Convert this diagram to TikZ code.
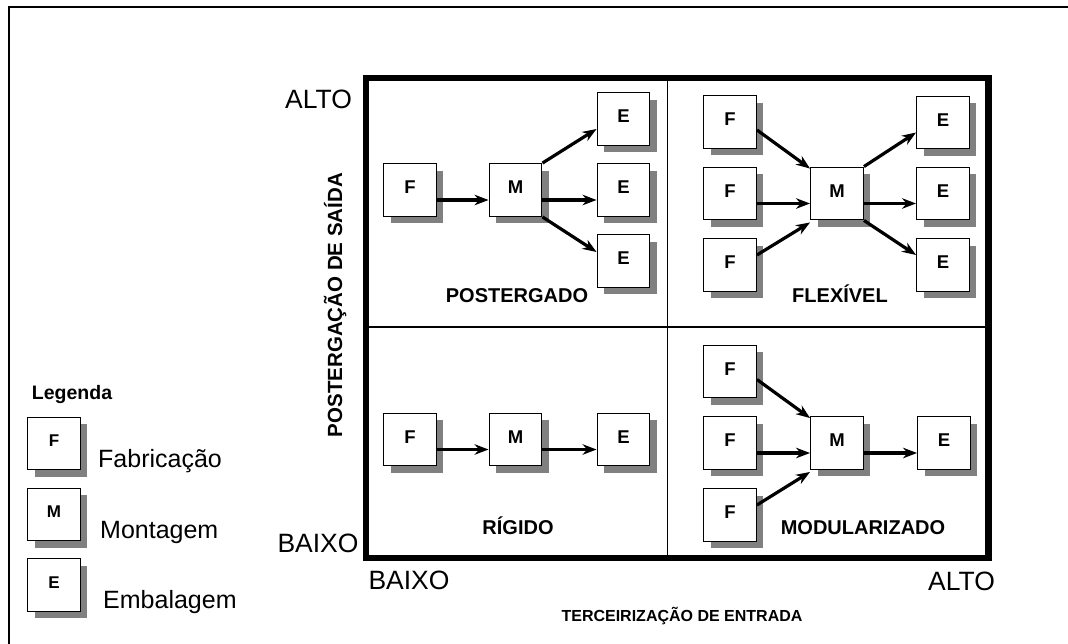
\documentclass[tikz,border=0pt]{standalone}
\usepackage{fontspec}
\setmainfont{Liberation Sans}
\usetikzlibrary{arrows.meta,shadows}
\begin{document}
\begin{tikzpicture}[x=1pt,y=-1pt,
  unit/.style={draw=black, line width=1.4pt, fill=white, minimum size=52.5pt, inner sep=0pt,
    font=\fontsize{18.5}{19}\selectfont\bfseries, text height=13pt, text depth=5.5pt,
    drop shadow={shadow xshift=7pt, shadow yshift=-7pt, fill=black!50, opacity=1}},
  flow/.style={line width=3.2pt, -{Stealth[length=14pt,width=10.5pt,inset=4.5pt]}},
  qlabel/.style={anchor=base, inner sep=0pt, font=\fontsize{20}{22}\selectfont\bfseries},
  axlabel/.style={anchor=base, inner sep=0pt, font=\fontsize{26.5}{28}\selectfont},
  leglabel/.style={anchor=base west, inner sep=0pt, font=\fontsize{25}{27}\selectfont}]
\useasboundingbox (0,0) rectangle (1068,643);
% outer frame (open at right and bottom)
\draw[line width=2pt] (9,650) -- (9,7) -- (1075,7);
% main matrix
\draw[line width=6.5pt] (366,78) rectangle (988.5,558);
\draw[line width=1.2pt] (667.5,78) -- (667.5,558);
\draw[line width=1.2pt] (366,327) -- (988.5,327);
% axis labels
\node[axlabel] (altoL) at (318.5,108.5) {ALTO};
\node[axlabel] (baixoL) at (318,552) {BAIXO};
\node[axlabel] (baixoB) at (409,589) {BAIXO};
\node[axlabel] (altoB) at (961.5,590) {ALTO};
\node[anchor=base, inner sep=0pt, rotate=90, font=\fontsize{20.5}{22}\selectfont\bfseries] (ylab) at (342,305) {POSTERGAÇÃO DE SAÍDA};
\node[anchor=base, inner sep=0pt, font=\fontsize{16}{18}\selectfont\bfseries] (xlab) at (682,621) {TERCEIRIZAÇÃO DE ENTRADA};
% Postergado
\node[unit] (pF) at (410,190) {F};
\node[unit] (pM) at (515.5,190) {M};
\node[unit] (pE1) at (623.5,119) {E};
\node[unit] (pE2) at (623.5,190) {E};
\node[unit] (pE3) at (623.5,261) {E};
\draw[flow] ([yshift=-10pt]pF.east) -- ([yshift=-10pt]pM.west);
\draw[flow] (pM.north east) -- ([yshift=-10pt]pE1.west);
\draw[flow] ([yshift=-10pt]pM.east) -- ([yshift=-10pt]pE2.west);
\draw[flow] (pM.south east) -- ([yshift=9pt]pE3.west);
\node[qlabel] (lpost) at (517,302) {POSTERGADO};
% Flexivel
\node[unit] (xF1) at (730,122) {F};
\node[unit] (xF2) at (730,193.5) {F};
\node[unit] (xF3) at (730,265) {F};
\node[unit] (xM) at (837,193.5) {M};
\node[unit] (xE1) at (943,122.5) {E};
\node[unit] (xE2) at (943,193.5) {E};
\node[unit] (xE3) at (943,265) {E};
\draw[flow] ([yshift=-8pt]xF1.east) -- ([yshift=-2pt]xM.north west);
\draw[flow] ([yshift=-10pt]xF2.east) -- ([yshift=-10pt]xM.west);
\draw[flow] ([yshift=10pt]xF3.east) -- ([yshift=-2pt]xM.south west);
\draw[flow] (xM.north east) -- ([yshift=-10pt]xE1.west);
\draw[flow] ([yshift=-10pt]xM.east) -- ([yshift=-10pt]xE2.west);
\draw[flow] (xM.south east) -- ([yshift=10pt]xE3.west);
\node[qlabel] (lflex) at (840,302) {FLEXÍVEL};
% Rigido
\node[unit] (rF) at (410,439.5) {F};
\node[unit] (rM) at (515.5,439.5) {M};
\node[unit] (rE) at (623.5,439.5) {E};
\draw[flow] ([yshift=-10pt]rF.east) -- ([yshift=-10pt]rM.west);
\draw[flow] ([yshift=-10pt]rM.east) -- ([yshift=-10pt]rE.west);
\node[qlabel] (lrig) at (518,534) {RÍGIDO};
% Modularizado
\node[unit] (mF1) at (730,371.5) {F};
\node[unit] (mF2) at (730,443) {F};
\node[unit] (mF3) at (730,515) {F};
\node[unit] (mM) at (837,443) {M};
\node[unit] (mE) at (944,443) {E};
\draw[flow] ([yshift=-8pt]mF1.east) -- ([yshift=-2pt]mM.north west);
\draw[flow] ([yshift=-10pt]mF2.east) -- ([yshift=-10pt]mM.west);
\draw[flow] ([yshift=10pt]mF3.east) -- ([yshift=-2pt]mM.south west);
\draw[flow] ([yshift=-10pt]mM.east) -- ([yshift=-10pt]mE.west);
\node[qlabel] (lmod) at (863,534) {MODULARIZADO};
% Legend
\node[anchor=base, inner sep=0pt, font=\fontsize{19.5}{20}\selectfont\bfseries] (legt) at (72,399) {Legenda};
\node[unit, font=\fontsize{17}{18}\selectfont\bfseries, text depth=7pt] (lgF) at (54,443.5) {F};
\node[unit, font=\fontsize{17}{18}\selectfont\bfseries, text depth=7pt] (lgM) at (54,514.5) {M};
\node[unit, font=\fontsize{17}{18}\selectfont\bfseries, text depth=7pt] (lgE) at (54,585) {E};
\node[leglabel] (tF) at (98,467) {Fabricação};
\node[leglabel] (tM) at (100,538) {Montagem};
\node[leglabel] (tE) at (103,608) {Embalagem};
\end{tikzpicture}
\end{document}
